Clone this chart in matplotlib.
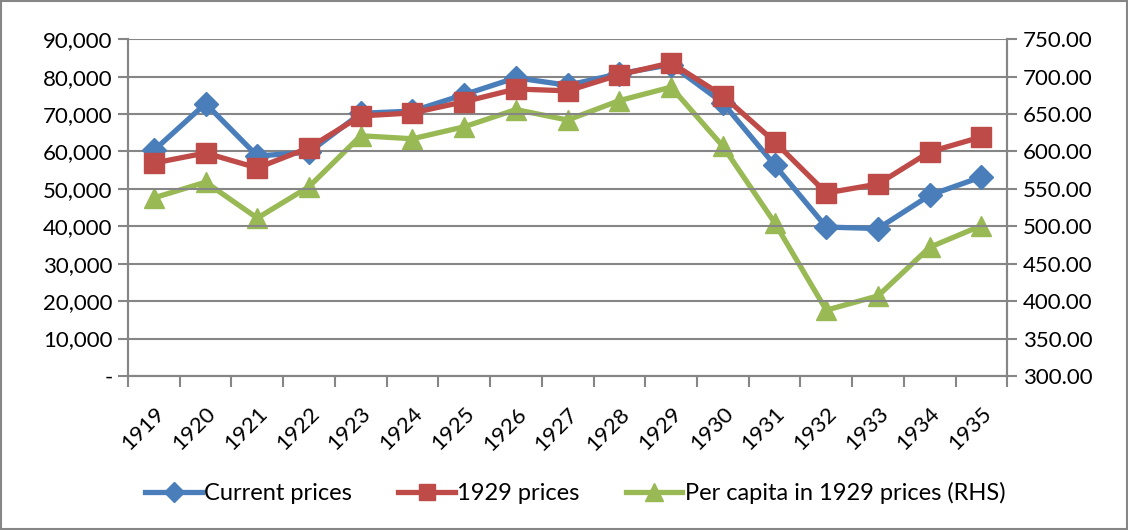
import matplotlib
matplotlib.use("Agg")
import matplotlib.pyplot as plt
from matplotlib.ticker import FuncFormatter, MultipleLocator, FixedLocator
from matplotlib.patches import Rectangle

# data
years = [str(y) for y in range(1919, 1936)]
current_prices = [60300, 72800, 58800, 59800, 70200, 70800, 75200, 79700, 77700,
                  80800, 83200, 73000, 56400, 39800, 39400, 48300, 53200]
prices_1929 = [56900, 59600, 55600, 61000, 69500, 70300, 73300, 76700, 76200,
               80500, 83700, 74900, 62600, 48900, 51300, 59900, 63900]
per_capita = [538, 559, 511, 553, 621, 617, 633, 656, 642,
              668, 686, 607, 505, 388, 407, 472, 501]

blue = "#4A7EBB"
red = "#BE4B48"
green = "#98B954"
grid_col = "#868686"

plt.rcParams['font.family'] = ['Lato', 'DejaVu Sans']
fs = 16
fs_leg = 17

fig = plt.figure(figsize=(11.28, 5.30), dpi=100)
ax = fig.add_axes([0.1135, 0.2906, 0.893 - 0.1135, 0.926 - 0.2906])
ax2 = ax.twinx()

x = list(range(len(years)))
l1, = ax.plot(x, current_prices, color=blue, lw=3.8, marker="D", ms=12, label="Current prices", zorder=3)
l2, = ax.plot(x, prices_1929, color=red, lw=3.8, marker="s", ms=14, label="1929 prices", zorder=4)
l3, = ax2.plot(x, per_capita, color=green, lw=3.8, marker="^", ms=15, label="Per capita in 1929 prices (RHS)")

ax.set_zorder(ax2.get_zorder() + 1)
ax.patch.set_visible(False)

ax.set_xlim(-0.5, len(years) - 0.5)
ax.set_ylim(0, 90000)
ax2.set_ylim(300, 750)

ax.yaxis.set_major_locator(MultipleLocator(10000))
ax.yaxis.set_major_formatter(FuncFormatter(lambda v, p: "-" if v == 0 else f"{v:,.0f}"))
ax2.yaxis.set_major_locator(MultipleLocator(50))
ax2.yaxis.set_major_formatter(FuncFormatter(lambda v, p: f"{v:.2f}"))

ax.set_xticks(x)
ax.set_xticklabels(years, rotation=45, ha="right", rotation_mode="anchor", fontsize=fs)
ax.tick_params(axis="x", length=0, pad=20)
ax.xaxis.set_minor_locator(FixedLocator([i - 0.5 for i in range(len(years) + 1)]))
ax.tick_params(axis="x", which="minor", length=8, width=1.5, color=grid_col, direction="out")

ax.tick_params(axis="y", length=7, width=1.5, color=grid_col, labelsize=fs, pad=4)
ax2.tick_params(axis="y", length=7, width=1.5, color=grid_col, labelsize=fs, pad=4)

ax.grid(axis="y", color=grid_col, lw=1.5, zorder=0)
ax.set_axisbelow(True)

for a in (ax, ax2):
    a.spines["top"].set_visible(False)
    for s in ("left", "right", "bottom"):
        a.spines[s].set_color(grid_col)
        a.spines[s].set_linewidth(1.5)

fig.legend(handles=[l1, l2, l3], loc="center", bbox_to_anchor=(0.51, 0.07), ncol=3,
           frameon=False, fontsize=fs_leg, handlelength=2.4, handletextpad=0.1,
           columnspacing=1.95, markerscale=0.85)

fig.patches.append(Rectangle((0.001, 0.002), 0.998, 0.996, transform=fig.transFigure,
                             fill=False, edgecolor=grid_col, lw=1.5))

fig.savefig("out.png", dpi=100)
